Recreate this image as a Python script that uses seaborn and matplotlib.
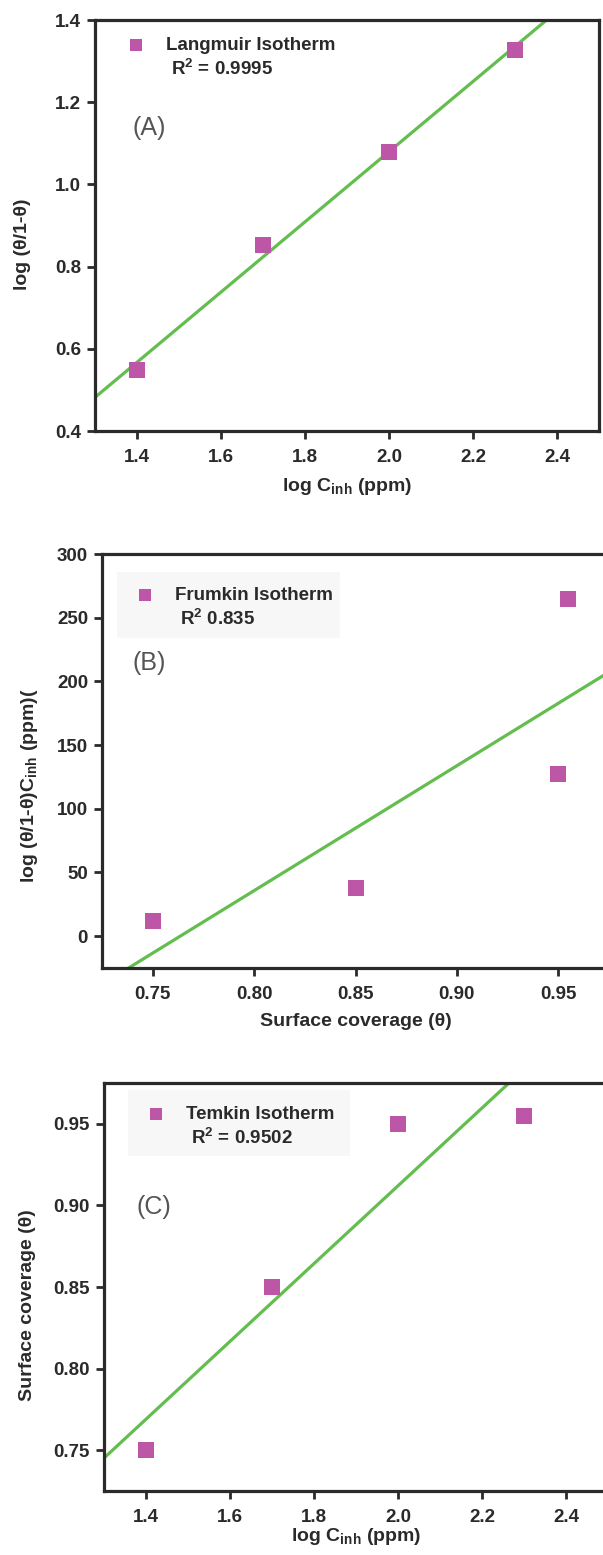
import numpy as np
import pandas as pd
import seaborn as sns
import matplotlib.pyplot as plt
from matplotlib.lines import Line2D
from matplotlib.patches import Rectangle

# data
langmuir_x = [1.4, 1.7, 2.0, 2.3]
langmuir_y = [0.548, 0.853, 1.078, 1.327]

frumkin_x = [0.75, 0.85, 0.95, 0.955]
frumkin_y = [12, 38, 127, 265]

temkin_x = [1.4, 1.7, 2.0, 2.3]
temkin_y = [0.75, 0.85, 0.95, 0.955]

names = ['Langmuir Isotherm', 'Frumkin Isotherm', 'Temkin Isotherm']
r2_labels = ['R$^{2}$ = 0.9995', 'R$^{2}$ 0.835', 'R$^{2}$ = 0.9502']
tags = ['(A)', '(B)', '(C)']

sns.set_style('ticks')
plt.rcParams['font.family'] = ['Liberation Sans', 'DejaVu Sans']
plt.rcParams['font.weight'] = 'bold'
plt.rcParams['mathtext.fontset'] = 'custom'
plt.rcParams['mathtext.rm'] = 'Liberation Sans:bold'
plt.rcParams['mathtext.it'] = 'Liberation Sans:bold'
plt.rcParams['mathtext.bf'] = 'Liberation Sans:bold'

pink = '#BE56A8'
green = '#63BD4F'
dark = '#2a2a2a'

fig = plt.figure(figsize=(6.03, 15.55), dpi=100)

W, H = 603, 1555
def box(left, top, right, bottom):
    return [left / W, 1 - bottom / H, (right - left) / W, (bottom - top) / H]

panels = [
    dict(x=langmuir_x, y=langmuir_y, rect=box(95, 20, 599, 431),
         xlim=(1.3, 2.5), ylim=(0.4, 1.4),
         xticks=np.arange(1.4, 2.41, 0.2), yticks=np.arange(0.4, 1.41, 0.2),
         xfmt='{:.1f}', yfmt='{:.1f}',
         xlabel='log C$_{\\mathrm{inh}}$ (ppm)', ylabel='log (θ/1-θ)', lpad=17, ly=0.455,
         xpad=7, leg=(0.025, 1.0), tag=(0.075, 0.737), bg=None),
    dict(x=frumkin_x, y=frumkin_y, rect=box(102, 554, 609, 968),
         xlim=(0.725, 0.975), ylim=(-25, 300),
         xticks=[0.75, 0.80, 0.85, 0.90, 0.95], yticks=range(0, 301, 50),
         xfmt='{:.2f}', yfmt='{:.0f}',
         xlabel='Surface coverage (θ)', ylabel='log (θ/1-θ)C$_{\\mathrm{inh}}$ (ppm)(',
         lpad=12, ly=0.44,
         xpad=7, leg=(0.03, 0.962), tag=(0.061, 0.737), bg=(0.0296, 0.797, 0.44, 0.159)),
    dict(x=temkin_x, y=temkin_y, rect=box(104, 1083, 608, 1491),
         xlim=(1.3, 2.5), ylim=(0.725, 0.975),
         xticks=np.arange(1.4, 2.41, 0.2), yticks=[0.75, 0.80, 0.85, 0.90, 0.95],
         xfmt='{:.1f}', yfmt='{:.2f}',
         xlabel='log C$_{\\mathrm{inh}}$ (ppm)', ylabel='Surface coverage (θ)', lpad=13, ly=0.456,
         xpad=0, leg=(0.048, 0.985), tag=(0.065, 0.696), bg=(0.048, 0.822, 0.44, 0.16)),
]

for i, p in enumerate(panels):
    ax = fig.add_axes(p['rect'])
    ax.set_xlim(p['xlim'])
    ax.set_ylim(p['ylim'])
    sns.regplot(x=p['x'], y=p['y'], ax=ax, ci=None, truncate=False,
                marker='s', label=names[i],
                scatter_kws=dict(s=120, color=pink, linewidths=0, alpha=1, zorder=3),
                line_kws=dict(color=green, lw=2.3, zorder=2))
    ax.set_xlim(p['xlim'])
    ax.set_ylim(p['ylim'])
    ax.set_xticks(p['xticks'])
    ax.set_xticklabels([p['xfmt'].format(v) for v in p['xticks']])
    ax.set_yticks(p['yticks'])
    ax.set_yticklabels([p['yfmt'].format(v) for v in p['yticks']])
    ax.tick_params(direction='out', length=6, width=2, labelsize=13.5,
                   colors=dark, pad=4)
    ax.tick_params(axis='x', pad=7)
    for s in ax.spines.values():
        s.set_linewidth(2.3)
        s.set_color(dark)
    ax.set_xlabel(p['xlabel'], fontsize=14, fontweight='bold', color=dark, labelpad=p['xpad'])
    ax.set_ylabel(p['ylabel'], fontsize=14, fontweight='bold', color=dark, labelpad=p['lpad'])
    ax.yaxis.label.set_y(p['ly'])

    if p['bg'] is not None:
        ax.add_patch(Rectangle(p['bg'][:2], p['bg'][2], p['bg'][3], transform=ax.transAxes,
                               facecolor='#f7f7f7', edgecolor='none', zorder=0))

    h, l = ax.get_legend_handles_labels()
    h = h + [Line2D([], [], ls='none')]
    l = l + [' ' + r2_labels[i]]
    leg = ax.legend(h, l, loc='upper left', bbox_to_anchor=p['leg'],
                    frameon=False, fontsize=13.5, markerscale=0.75,
                    handletextpad=1.0, labelspacing=0.27, borderpad=0.4,
                    handlelength=1.2)
    for t in leg.get_texts():
        t.set_color(dark)

    ax.text(p['tag'][0], p['tag'][1], tags[i], transform=ax.transAxes, va='center',
            fontsize=18, fontweight='normal', color='#555555')

fig.savefig('out.png', dpi=100)
